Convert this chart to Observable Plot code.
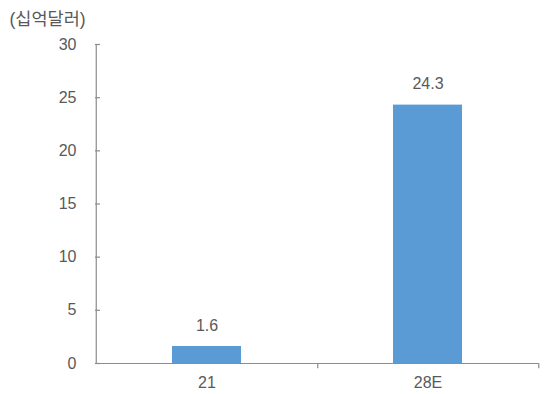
<!DOCTYPE html>
<html><head><meta charset="utf-8">
<script src="https://cdn.jsdelivr.net/npm/d3@7"></script>
<script src="https://cdn.jsdelivr.net/npm/@observablehq/plot@0.6"></script>
<style>body{margin:0;background:#fff}</style>
</head><body><div id="chart"></div>
<script>
const categories = ["21", "28E"];
const values = [1.6, 24.3];
const labels = ["1.6", "24.3"];
const yTicks = [0, 5, 10, 15, 20, 25, 30];
const unitLabel = "(십억달러)";

const data = categories.map((c, i) => ({cat: c, value: values[i], label: labels[i]}));
const W = 545, H = 394, mL = 95, mR = 7, mT = 44, mB = 31;
const step = (W - mL - mR) / categories.length;
const font = "'Liberation Sans','Noto Sans CJK KR',sans-serif";
const txt = "#595959", axis = "#8c8c8c";

const chart = Plot.plot({
  width: W, height: H,
  marginLeft: mL, marginRight: mR, marginTop: mT, marginBottom: mB,
  style: {fontFamily: font, fontSize: "16px", color: txt, background: "#fff"},
  x: {type: "band", domain: categories, padding: 0, axis: null},
  y: {domain: [0, 30], axis: null},
  marks: [
    Plot.barY(data, {x: "cat", y: "value", fill: "#5B9BD5", insetLeft: 76, insetRight: 76}),
    Plot.ruleY([0], {stroke: axis, strokeWidth: 1.2}),
    Plot.ruleX([categories[0]], {x: d => d, dx: -step / 2, y1: 0, y2: 30, stroke: axis, strokeWidth: 1.2}),
    Plot.tickY(yTicks, {y: d => d, stroke: axis, strokeWidth: 1.2, insetRight: W - mL - mR - 5}),
    Plot.text(yTicks, {y: d => d, text: d => String(d), frameAnchor: "left", dx: -19, textAnchor: "end", fill: txt, fontSize: 16}),
    Plot.ruleX(categories, {x: d => d, dx: step / 2, y1: 0, y2: -0.5, stroke: axis, strokeWidth: 1.2}),
    Plot.text(data, {x: "cat", y: 0, text: "cat", dy: 19, fill: txt, fontSize: 16}),
    Plot.text(data, {x: "cat", y: "value", text: "label", dy: -21, fill: txt, fontSize: 16, letterSpacing: "1.5px"}),
    Plot.text([unitLabel], {frameAnchor: "top-left", text: d => d, dx: -86, dy: -32, textAnchor: "start", fill: txt, fontSize: 17.5})
  ]
});
document.getElementById("chart").appendChild(chart);
</script></body></html>
